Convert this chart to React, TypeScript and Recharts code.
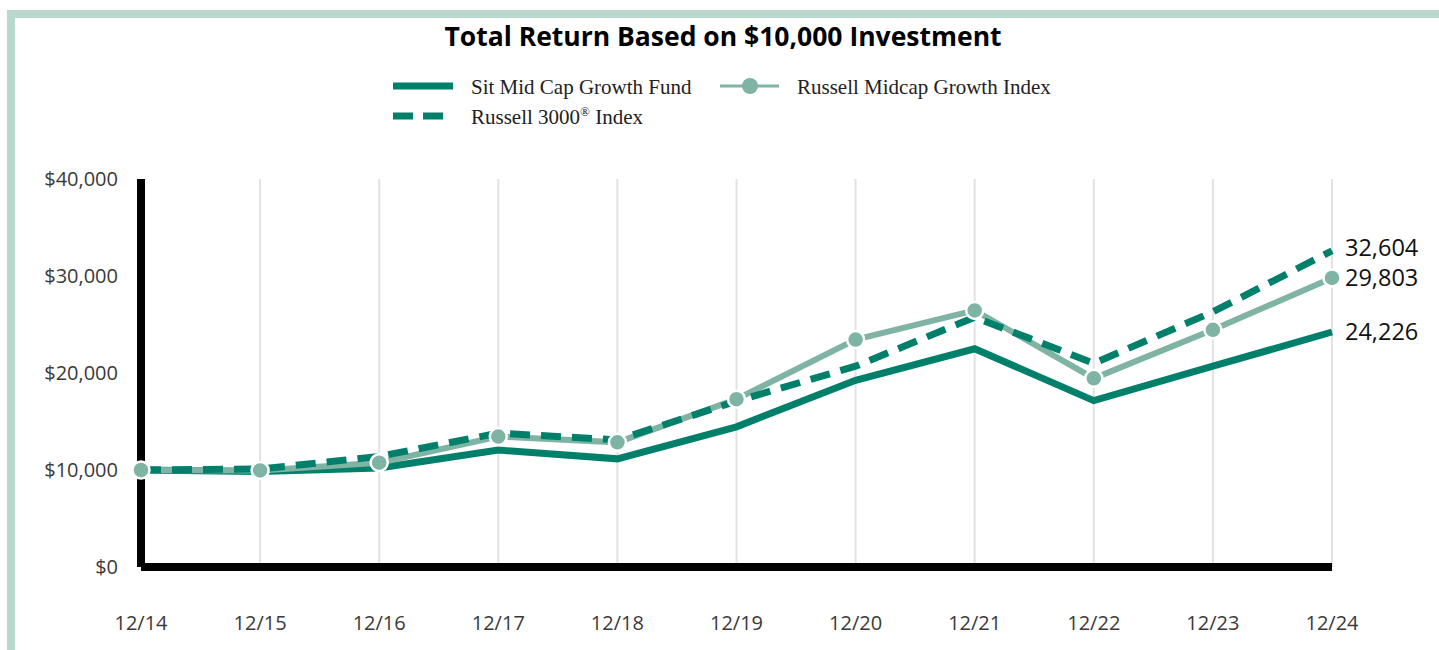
import { CartesianGrid, LabelList, Line, LineChart, XAxis, YAxis } from "recharts"

const years = ["12/14", "12/15", "12/16", "12/17", "12/18", "12/19", "12/20", "12/21", "12/22", "12/23", "12/24"]
const fund = [10000, 9850, 10200, 12050, 11150, 14450, 19250, 22500, 17150, 20700, 24226]
const midcap = [10000, 9950, 10750, 13450, 12850, 17300, 23450, 26450, 19450, 24450, 29803]
const russell3000 = [10000, 10100, 11400, 13800, 13100, 17100, 20700, 25750, 21000, 26300, 32604]
const yTicks = [0, 10000, 20000, 30000, 40000]

const FUND_COLOR = "#00806a"
const MIDCAP_COLOR = "#7fb4a4"
const SANS = "'Open Sans', sans-serif"
const SERIF = "'Liberation Serif', 'Times New Roman', serif"

const data = years.map((year, i) => ({
  year,
  fund: fund[i],
  midcap: midcap[i],
  russell3000: russell3000[i],
}))

const last = years.length - 1

// value label at the right end of a series; nudge keeps the close ones apart
const endLabel = (nudge: number) => (props: any) => {
  const { x, y, value, index } = props
  if (index !== last) return null
  return (
    <text x={x + 13} y={y + nudge} dy="0.35em" fontSize={23.5} fontFamily={SANS} fill="#111">
      {value.toLocaleString("en-US")}
    </text>
  )
}

const LegendBox = () => {
  const label = { fontFamily: SERIF, fontSize: 21, color: "#222", position: "absolute" as const, lineHeight: "24px" }
  return (
    <div style={{ position: "absolute", left: 0, top: 70, width: 1439, height: 60 }}>
      <svg width={1439} height={60} style={{ position: "absolute", left: 0, top: 0 }}>
        <line x1={393} x2={453} y1={16} y2={16} stroke={FUND_COLOR} strokeWidth={7} />
        <line x1={393} x2={443} y1={46} y2={46} stroke={FUND_COLOR} strokeWidth={7} strokeDasharray="20 10" />
        <line x1={720} x2={779} y1={16} y2={16} stroke={MIDCAP_COLOR} strokeWidth={3} />
        <circle cx={750} cy={16} r={8} fill={MIDCAP_COLOR} />
      </svg>
      <span style={{ ...label, left: 471, top: 5 }}>Sit Mid Cap Growth Fund</span>
      <span style={{ ...label, left: 471, top: 35 }}>
        Russell 3000<sup style={{ fontSize: 13, lineHeight: 0 }}>®</sup> Index
      </span>
      <span style={{ ...label, left: 797, top: 5 }}>Russell Midcap Growth Index</span>
    </div>
  )
}

export default function App() {
  return (
    <div style={{ position: "absolute", left: 0, top: 0, width: 1439, height: 650, background: "#fff", overflow: "hidden" }}>
      <div
        style={{
          position: "absolute",
          left: 7,
          top: 10,
          right: 0,
          bottom: 0,
          borderLeft: "8px solid #b9d7cc",
          borderTop: "8px solid #b9d7cc",
        }}
      />
      <div
        style={{
          position: "absolute",
          left: 0,
          top: 19,
          width: 1446,
          textAlign: "center",
          fontFamily: SANS,
          fontWeight: 700,
          fontSize: 26.5,
          color: "#000",
          lineHeight: "34px",
        }}
      >
        Total Return Based on $10,000 Investment
      </div>
      <LegendBox />
      <div style={{ position: "absolute", left: 0, top: 0 }}>
        <LineChart width={1439} height={650} data={data} margin={{ top: 179, right: 107, bottom: 0, left: 0 }}>
          <CartesianGrid horizontal={false} stroke="#e2e2e2" strokeWidth={2} />
          <XAxis
            dataKey="year"
            height={83}
            tickLine={false}
            tickSize={0}
            tickMargin={49}
            axisLine={{ stroke: "#000", strokeWidth: 8 }}
            tick={{ fontSize: 20, fontFamily: SANS, fill: "#3a3a3a" }}
            interval={0}
          />
          <YAxis
            width={141}
            domain={[0, 40000]}
            ticks={yTicks}
            tickLine={false}
            tickSize={0}
            tickMargin={23}
            axisLine={{ stroke: "#000", strokeWidth: 8 }}
            tick={{ fontSize: 20, fontFamily: SANS, fill: "#3a3a3a" }}
            tickFormatter={(v: number) => `$${v.toLocaleString("en-US")}`}
          />
          <Line dataKey="fund" stroke={FUND_COLOR} strokeWidth={7} dot={false} isAnimationActive={false}>
            <LabelList dataKey="fund" content={endLabel(0)} />
          </Line>
          <Line dataKey="midcap" stroke={MIDCAP_COLOR} strokeWidth={6} dot={false} isAnimationActive={false} />
          <Line
            dataKey="russell3000"
            stroke={FUND_COLOR}
            strokeWidth={7}
            strokeDasharray="20 11"
            dot={false}
            isAnimationActive={false}
          >
            <LabelList dataKey="russell3000" content={endLabel(-3)} />
          </Line>
          <Line
            dataKey="midcap"
            stroke="none"
            dot={{ r: 8.5, fill: MIDCAP_COLOR, stroke: "#fff", strokeWidth: 2.5 }}
            isAnimationActive={false}
          >
            <LabelList dataKey="midcap" content={endLabel(0)} />
          </Line>
        </LineChart>
      </div>
    </div>
  )
}
